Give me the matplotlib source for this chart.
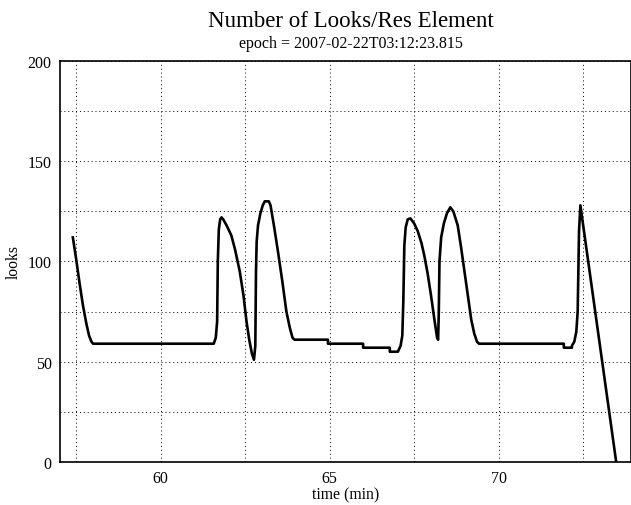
import matplotlib
matplotlib.use("Agg")
import matplotlib.pyplot as plt
from matplotlib.ticker import MultipleLocator

# looks per resolution element vs time
time_min = [57.40, 57.50, 57.60, 57.70, 57.80, 57.88, 57.95, 58.00,
            61.57, 61.63, 61.67, 61.69, 61.72, 61.76, 61.80, 61.85, 61.95, 62.09,
            62.20, 62.34, 62.45, 62.54, 62.62, 62.70, 62.76, 62.80, 62.82, 62.84,
            62.88, 62.95, 63.02, 63.08, 63.20, 63.25, 63.35, 63.47, 63.60, 63.72,
            63.82, 63.90, 63.96, 64.95, 64.95, 65.99, 65.99, 66.78, 66.78, 67.02,
            67.10, 67.15, 67.18, 67.21, 67.25, 67.31, 67.39, 67.50, 67.61, 67.72,
            67.80, 67.90, 68.00, 68.10, 68.18, 68.21, 68.23, 68.25, 68.30, 68.38,
            68.47, 68.57, 68.66, 68.79, 68.89, 68.99, 69.09, 69.19, 69.28, 69.36,
            69.42, 71.93, 71.93, 72.17, 72.17, 72.24, 72.30, 72.34, 72.36, 72.38,
            72.42, 73.48]
looks = [112, 101, 89, 78, 69, 63, 60, 59,
         59, 62, 70, 100, 116, 121, 122, 121, 118, 113,
         106, 95, 83, 70, 61, 54, 51, 58, 95, 110,
         118, 124, 128, 130, 130, 128, 118, 105, 90, 75,
         67, 62, 61, 61, 59, 59, 57, 57, 55, 55,
         58, 63, 80, 108, 117, 121, 121.5, 119, 115, 109,
         103, 94, 83, 71, 62, 61, 75, 100, 112, 119,
         124, 127, 125, 118, 107, 95, 83, 71, 64, 60,
         59, 59, 57, 57, 58, 60, 65, 75, 95, 115,
         128, 0]

title = "Number of Looks/Res Element"
subtitle = "epoch = 2007-02-22T03:12:23.815"

plt.rcParams["font.family"] = ["Liberation Serif", "DejaVu Serif"]

fig = plt.figure(figsize=(6.31, 5.06), dpi=100)
ax = fig.add_axes([0.0951, 0.085, 0.905, 0.7925])

ax.plot(time_min, looks, color="black", linewidth=1.9)

ax.set_xlim(57.02, 73.92)
ax.set_ylim(0, 200)
ax.xaxis.set_major_locator(MultipleLocator(5))
ax.xaxis.set_minor_locator(MultipleLocator(2.5))
ax.yaxis.set_major_locator(MultipleLocator(50))
ax.yaxis.set_minor_locator(MultipleLocator(25))
ax.grid(True, which="both", color="black", linestyle=(0, (1, 3)), linewidth=0.7)
ax.tick_params(which="both", length=0, labelsize=11.5, pad=6)
for s in ax.spines.values():
    s.set_linewidth(1.2)

ax.set_xlabel("time (min)", fontsize=11.3, labelpad=0)
ax.set_ylabel("looks", fontsize=11.3, labelpad=4)

fig.text(0.556, 0.946, title, ha="center", va="baseline", fontsize=16.5)
fig.text(0.556, 0.906, subtitle, ha="center", va="baseline", fontsize=11.5)

fig.savefig("out.png", dpi=100)
